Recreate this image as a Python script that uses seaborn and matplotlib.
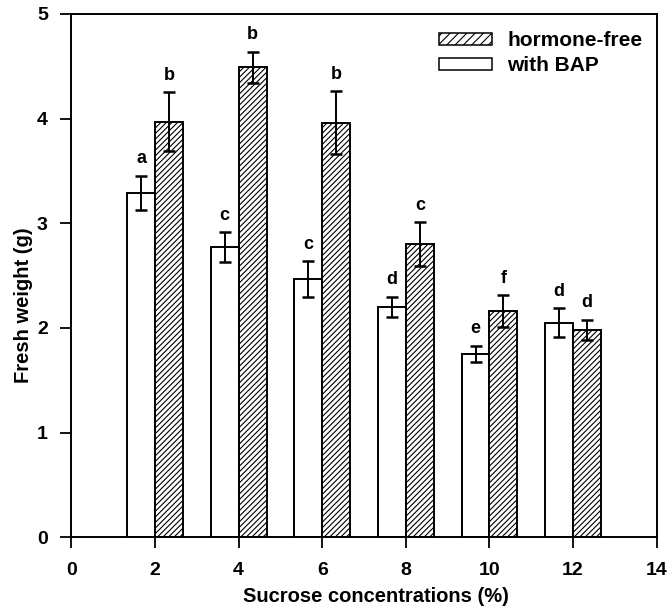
import matplotlib
matplotlib.use("Agg")
import matplotlib.pyplot as plt
from matplotlib.patches import Patch
import seaborn as sns
import pandas as pd

# Sucrose levels (%) and mean fresh weight (g) with error half-widths
sucrose = [2, 4, 6, 8, 10, 12]
bap_mean = [3.29, 2.77, 2.47, 2.20, 1.75, 2.05]
bap_err = [0.165, 0.145, 0.17, 0.10, 0.08, 0.14]
free_mean = [3.97, 4.49, 3.96, 2.80, 2.16, 1.98]
free_err = [0.28, 0.15, 0.30, 0.21, 0.15, 0.10]
bap_letters = ["a", "c", "c", "d", "e", "d"]
free_letters = ["b", "b", "b", "c", "f", "d"]
treatments = ["with BAP", "hormone-free"]

df = pd.DataFrame({
    "sucrose": sucrose * 2,
    "weight": bap_mean + free_mean,
    "err": bap_err + free_err,
    "letter": bap_letters + free_letters,
    "treatment": [treatments[0]] * len(sucrose) + [treatments[1]] * len(sucrose),
})

sns.set_style("ticks")
plt.rcParams["font.family"] = ["Liberation Sans", "DejaVu Sans"]
plt.rcParams["font.weight"] = "bold"
plt.rcParams["axes.labelweight"] = "bold"
plt.rcParams["hatch.linewidth"] = 0.8
plt.rcParams["axes.linewidth"] = 1.4
for key in ["text.color", "axes.labelcolor", "xtick.color", "ytick.color",
            "axes.edgecolor"]:
    plt.rcParams[key] = "black"

fig = plt.figure(figsize=(6.68, 6.07), dpi=100)
ax = fig.add_axes([0.107, 0.115, 0.876, 0.862])

sns.barplot(
    data=df, x="sucrose", y="weight", hue="treatment", hue_order=treatments,
    native_scale=True, width=0.667, dodge=True, errorbar=None,
    palette=["white", "white"], edgecolor="black", linewidth=1.4,
    legend=False, ax=ax,
)

for container, name in zip(ax.containers, treatments):
    sub = df[df["treatment"] == name].reset_index(drop=True)
    for bar, (_, row) in zip(container, sub.iterrows()):
        if name == "hormone-free":
            bar.set_hatch("//////")
        xc = bar.get_x() + bar.get_width() / 2
        ax.errorbar(xc, row["weight"], yerr=row["err"], fmt="none",
                    ecolor="black", elinewidth=1.4, capsize=4.6, capthick=1.8,
                    zorder=5)
        ax.text(xc, row["weight"] + row["err"] + 0.08, row["letter"],
                ha="center", va="bottom", fontsize=13)

ax.set_xlim(0, 14)
ax.set_ylim(0, 5)
ax.set_xticks(range(0, 15, 2))
ax.set_yticks(range(0, 6))
ax.tick_params(axis="both", direction="out", length=8, width=1.3, labelsize=14)
ax.tick_params(axis="x", pad=10)
ax.tick_params(axis="y", pad=9)
for s in ax.spines.values():
    s.set_visible(True)
ax.set_xlabel("Sucrose concentrations (%)", fontsize=14.5)
ax.set_ylabel("Fresh weight (g)", fontsize=14.5)
ax.xaxis.set_label_coords(0.52, -0.096)
ax.yaxis.set_label_coords(-0.065, 0.444)

handles = [
    Patch(facecolor="white", edgecolor="black", hatch="////", linewidth=1.1),
    Patch(facecolor="white", edgecolor="black", linewidth=1.1),
]
ax.legend(handles, ["hormone-free", "with BAP"], loc="upper left",
          frameon=False, fontsize=15, handlelength=2.55, handleheight=0.55,
          handletextpad=0.72, labelspacing=0.3, borderaxespad=0.0,
          borderpad=0.0, bbox_to_anchor=(0.628, 0.967))

fig.savefig("out.png", dpi=100)
